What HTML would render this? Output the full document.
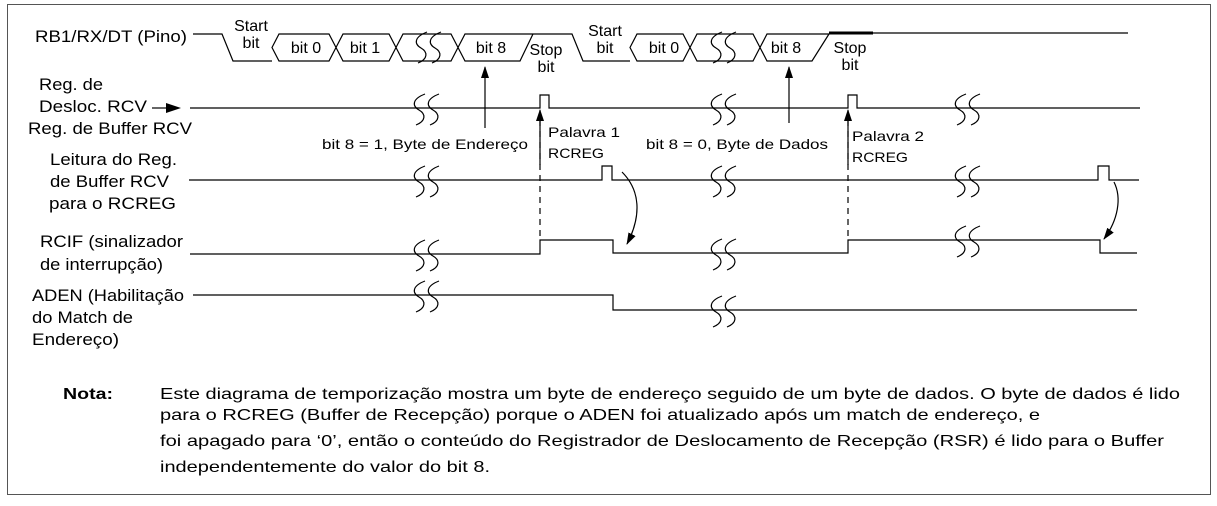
<!DOCTYPE html>
<html><head><meta charset="utf-8"><style>
html,body{margin:0;padding:0;background:#fff;}
svg{display:block;}
text{font-family:"Liberation Sans",Arial,sans-serif;fill:#000;}
</style></head><body>
<svg width="1217" height="506" viewBox="0 0 1217 506" xmlns="http://www.w3.org/2000/svg">
<defs>
<marker id="au" markerWidth="12" markerHeight="8" refX="11" refY="4" orient="auto" markerUnits="userSpaceOnUse">
<path d="M0,0 L12,4 L0,8 z" fill="#000"/>
</marker>
</defs>
<rect x="7.5" y="4.5" width="1203" height="490" fill="none" stroke="#555" stroke-width="1"/>
<g stroke="#000" stroke-width="1.2" fill="none">
<path d="M193,34 H222 L233,61 H272"/>
<path d="M272,47.5 L279,34 H329 L336,47.5 L329,61 H279 Z"/>
<path d="M336,47.5 L343,34 H389 L396,47.5 L389,61 H343 Z"/>
<path d="M396,47.5 L403,34 H451 L458,47.5 L451,61 H403 Z"/>
<path d="M458,47.5 L465,34 H533 M458,47.5 L465,61 H520 L533,34 H572 L583,61 H630"/>
<path d="M630,47.5 L637,34 H683 L690,47.5 L683,61 H637 Z"/>
<path d="M690,47.5 L697,34 H753 L760,47.5 L753,61 H697 Z"/>
<path d="M760,47.5 L767,34 H829 M760,47.5 L767,61 H812 L829,34"/>
<path d="M873,33 H1128"/>
<path d="M829,33 H873" stroke-width="3"/>
<path d="M190,108 H540 V95 H549 V108 H848 V95 H857 V108 H1140"/>
<path d="M152,108 H168"/>
<path d="M189,180 H602 V166 H612 V180 H1098 V166 H1109 V180 H1139"/>
<path d="M190,254 H540 V240 H613 V253 H848 V240 H1100 V253 H1137"/>
<path d="M193,295 H613 V310 H1137"/>
<path d="M540,120 V240" stroke-dasharray="6,5"/>
<path d="M848,120 V240" stroke-dasharray="6,5"/>
<path d="M485,128 V67" marker-end="url(#au)"/>
<path d="M789,123 V67" marker-end="url(#au)"/>
<path d="M540,165 V110" marker-end="url(#au)"/>
<path d="M848,165 V110" marker-end="url(#au)"/>
<path d="M622,172 C640,190 642,215 627,244" marker-end="url(#au)"/>
<path d="M1114,182 C1122,198 1118,220 1104,239" marker-end="url(#au)"/>
</g>
<path d="M166,103 L181,108 L166,113 Z" fill="#000"/>
<g stroke="#000" stroke-width="1.2" fill="none">
<path d="M427,32 C414,37 414,44 421,48 C428,52 428,59 418,63 M441,32 C428,37 428,44 435,48 C442,52 442,59 432,63"/>
<path d="M425,94 C412,99 412,106 419,110 C426,114 426,121 416,125 M439,94 C426,99 426,106 433,110 C440,114 440,121 430,125"/>
<path d="M425,166 C412,171 412,178 419,182 C426,186 426,193 416,197 M439,166 C426,171 426,178 433,182 C440,186 440,193 430,197"/>
<path d="M425,240 C412,245 412,252 419,256 C426,260 426,267 416,271 M439,240 C426,245 426,252 433,256 C440,260 440,267 430,271"/>
<path d="M425,281 C412,286 412,293 419,297 C426,301 426,308 416,312 M439,281 C426,286 426,293 433,297 C440,301 440,308 430,312"/>
<path d="M722,32 C709,37 709,44 716,48 C723,52 723,59 713,63 M736,32 C723,37 723,44 730,48 C737,52 737,59 727,63"/>
<path d="M722,94 C709,99 709,106 716,110 C723,114 723,121 713,125 M736,94 C723,99 723,106 730,110 C737,114 737,121 727,125"/>
<path d="M722,166 C709,171 709,178 716,182 C723,186 723,193 713,197 M736,166 C723,171 723,178 730,182 C737,186 737,193 727,197"/>
<path d="M722,239 C709,244 709,251 716,255 C723,259 723,266 713,270 M736,239 C723,244 723,251 730,255 C737,259 737,266 727,270"/>
<path d="M722,296 C709,301 709,308 716,312 C723,316 723,323 713,327 M736,296 C723,301 723,308 730,312 C737,316 737,323 727,327"/>
<path d="M966,94 C953,99 953,106 960,110 C967,114 967,121 957,125 M980,94 C967,99 967,106 974,110 C981,114 981,121 971,125"/>
<path d="M966,166 C953,171 953,178 960,182 C967,186 967,193 957,197 M980,166 C967,171 967,178 974,182 C981,186 981,193 971,197"/>
<path d="M966,226 C953,231 953,238 960,242 C967,246 967,253 957,257 M980,226 C967,231 967,238 974,242 C981,246 981,253 971,257"/>
</g>
<g font-size="16" text-anchor="middle">
<text x="251" y="31">Start</text><text x="251" y="48">bit</text>
<text x="306" y="53">bit 0</text>
<text x="365" y="53">bit 1</text>
<text x="491" y="53">bit 8</text>
<text x="546" y="55">Stop</text><text x="546" y="72">bit</text>
<text x="605" y="36">Start</text><text x="605" y="53">bit</text>
<text x="664" y="53">bit 0</text>
<text x="786" y="53">bit 8</text>
<text x="850" y="53">Stop</text><text x="850" y="70">bit</text>
</g>
<g font-size="14" lengthAdjust="spacingAndGlyphs">
<text x="322" y="149" textLength="206" lengthAdjust="spacingAndGlyphs">bit 8 = 1, Byte de Endereço</text>
<text x="548" y="137" textLength="72" lengthAdjust="spacingAndGlyphs">Palavra  1</text>
<text x="548" y="158" textLength="56" lengthAdjust="spacingAndGlyphs">RCREG</text>
<text x="646" y="149" textLength="182" lengthAdjust="spacingAndGlyphs">bit 8 = 0, Byte de Dados</text>
<text x="852" y="141" textLength="72" lengthAdjust="spacingAndGlyphs">Palavra  2</text>
<text x="852" y="162" textLength="56" lengthAdjust="spacingAndGlyphs">RCREG</text>
</g>
<g font-size="17">
<text x="35" y="42" textLength="152" lengthAdjust="spacingAndGlyphs">RB1/RX/DT (Pino)</text>
<text x="39" y="90" textLength="64" lengthAdjust="spacingAndGlyphs">Reg. de</text>
<text x="39" y="112" textLength="108" lengthAdjust="spacingAndGlyphs">Desloc. RCV</text>
<text x="28" y="134" textLength="164" lengthAdjust="spacingAndGlyphs">Reg. de Buffer RCV</text>
<text x="50" y="165" textLength="127" lengthAdjust="spacingAndGlyphs">Leitura do Reg.</text>
<text x="50" y="187" textLength="119" lengthAdjust="spacingAndGlyphs">de Buffer RCV</text>
<text x="49" y="209" textLength="127" lengthAdjust="spacingAndGlyphs">para o RCREG</text>
<text x="40" y="247" textLength="143" lengthAdjust="spacingAndGlyphs">RCIF (sinalizador</text>
<text x="40" y="270" textLength="123" lengthAdjust="spacingAndGlyphs">de interrupção)</text>
<text x="32" y="301" textLength="152" lengthAdjust="spacingAndGlyphs">ADEN (Habilitação</text>
<text x="32" y="323" textLength="101" lengthAdjust="spacingAndGlyphs">do Match de</text>
<text x="32" y="345" textLength="87" lengthAdjust="spacingAndGlyphs">Endereço)</text>
</g>
<g font-size="16">
<text x="63" y="399" font-weight="bold" textLength="50" lengthAdjust="spacingAndGlyphs">Nota:</text>
<text x="160" y="399" textLength="1020" lengthAdjust="spacingAndGlyphs">Este diagrama de temporização mostra um byte de endereço seguido de um byte de dados. O byte de dados é lido</text>
<text x="160" y="420" textLength="880" lengthAdjust="spacingAndGlyphs">para o RCREG (Buffer de Recepção) porque o ADEN foi atualizado após um match de endereço, e</text>
<text x="160" y="446" textLength="1004" lengthAdjust="spacingAndGlyphs">foi apagado para ‘0’, então o conteúdo do Registrador de Deslocamento de Recepção (RSR) é lido para o Buffer</text>
<text x="160" y="472" textLength="330" lengthAdjust="spacingAndGlyphs">independentemente  do valor do bit 8.</text>
</g>
</svg>
</body></html>
